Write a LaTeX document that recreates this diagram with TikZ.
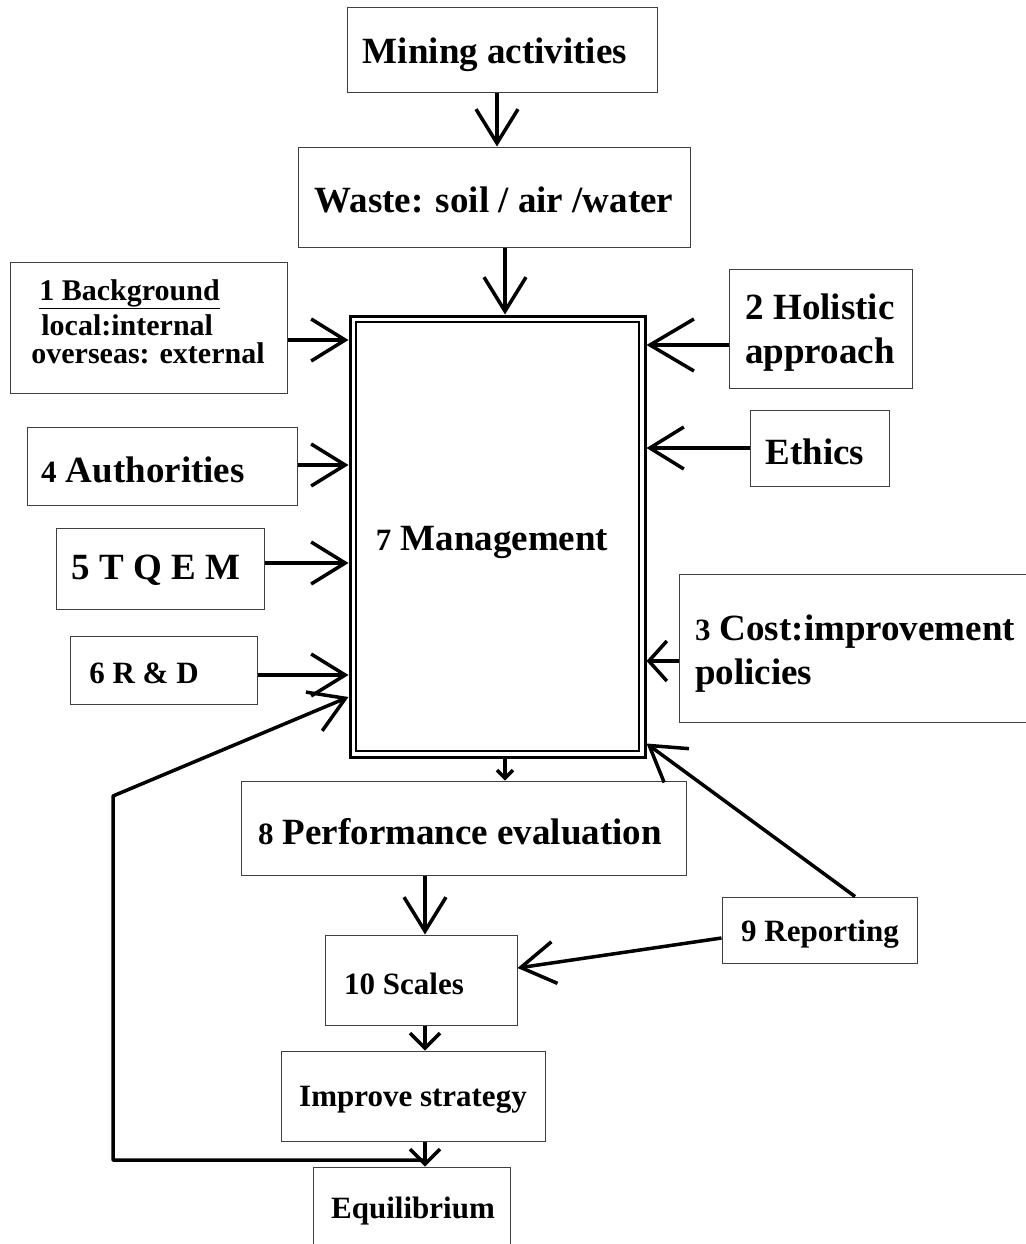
\documentclass[tikz,border=0pt]{standalone}
\usepackage{fontspec}
\setmainfont{Liberation Serif}
\usetikzlibrary{arrows.meta,calc}
\begin{document}
\begin{tikzpicture}[x=1pt,y=-1pt,
  box/.style={draw=black!75, line width=1pt, inner sep=0pt},
  txt/.style={font=\bfseries\fontsize{37}{44}\selectfont, inner sep=0pt, align=center},
  txts/.style={font=\bfseries\fontsize{31}{36}\selectfont, inner sep=0pt, align=center},
  arr/.style={line width=3.5pt, line join=round, -{Straight Barb[length=34pt,width=42pt]}},
  arrbig/.style={line width=3.5pt, -{Straight Barb[length=44pt,width=52pt]}},
  arrsmall/.style={line width=3.5pt, -{Straight Barb[length=18pt,width=40pt]}},
  arrmid/.style={line width=3.5pt, -{Straight Barb[length=15pt,width=30pt]}},
  arrtiny/.style={line width=3.5pt, -{Straight Barb[length=8pt,width=16pt]}},
]
\useasboundingbox (0,0) rectangle (1025,1244);
\fill[white] (0,0) rectangle (1025,1244);

% boxes
\node[box, minimum width=310pt, minimum height=85pt] (mining) at (502,50.5) {};
\node[txt] (miningT) at (495,55) {Mining activities};

\node[box, minimum width=392pt, minimum height=100pt] (waste) at (494,197) {};
\node[txt] (wasteT) at (494,200) {Waste: soil / air /water};

\node[box, minimum width=277pt, minimum height=131pt] (bg) at (148.5,327.5) {};
\node[font=\bfseries\fontsize{30}{28}\selectfont, inner sep=0pt, align=left] (bgT) at (148,322)
  {\hspace*{8pt}\underline{1 Background}\\[5pt]\hspace*{10pt}local:internal\\overseas: external};

\node[box, minimum width=183pt, minimum height=119pt] (holistic) at (820.5,328.5) {};
\node[txt] (holisticT) at (820,333) {2 Holistic\\approach};

\node[box, minimum width=139pt, minimum height=76pt] (ethics) at (819.5,448) {};
\node[txt] (ethicsT) at (815,452) {Ethics};

\node[box, minimum width=270pt, minimum height=78pt] (auth) at (162,466) {};
\node[txt] (authT) at (143,470) {{\fontsize{31}{31}\selectfont 4} Authorities};

\node[box, minimum width=208pt, minimum height=81pt] (tqem) at (160,568.5) {};
\node[txt] (tqemT) at (156,570) {5 T Q E M};

\node[box, minimum width=187pt, minimum height=68pt] (rd) at (163.5,670) {};
\node[txts] (rdT) at (144,673) {6 R \& D};

\node[box, minimum width=348pt, minimum height=148pt] (cost) at (853,648) {};
\node[txt, align=left] (costT) at (855,654) {{\fontsize{31}{31}\selectfont 3} Cost:improvement\\policies};

\node[draw, line width=3pt, minimum width=295pt, minimum height=441pt, inner sep=0pt] (mgmt) at (497.5,536.5) {};
\node[draw, line width=1.5pt, minimum width=283pt, minimum height=429pt, inner sep=0pt] (mgmtin) at (497.5,536.5) {};
\node[txt] (mgmtT) at (492,542) {{\fontsize{31}{31}\selectfont 7} Management};

\node[box, minimum width=445pt, minimum height=94pt] (perf) at (463.5,828) {};
\node[txt] (perfT) at (460,832) {{\fontsize{31}{31}\selectfont 8} Performance evaluation};

\node[box, minimum width=195pt, minimum height=66pt] (report) at (819.5,930) {};
\node[txts] (reportT) at (820,934) {9 Reporting};

\node[box, minimum width=192pt, minimum height=90pt] (scales) at (421,980) {};
\node[txts] (scalesT) at (404,984) {10 Scales};

\node[box, minimum width=264pt, minimum height=90pt] (improve) at (413,1096) {};
\node[txts] (improveT) at (413,1100) {Improve strategy};

\node[box, minimum width=197pt, minimum height=84pt] (equil) at (411.5,1209) {};
\node[txts] (equilT) at (413,1211) {Equilibrium};

% helper coordinates
\coordinate (hB) at (0,340);
\coordinate (hA) at (0,465);
\coordinate (hT) at (0,563);
\coordinate (hR) at (0,675);
\coordinate (hH) at (0,345);
\coordinate (hE) at (0,448);
\coordinate (hC) at (0,661);
\coordinate (hF) at (0,697);
\coordinate (hRs) at (0,938);
\coordinate (hSe) at (0,968);
\coordinate (vM) at (497,0);
\coordinate (vW) at (505,0);
\coordinate (vS) at (425,0);
\coordinate (vR) at (855,0);
\coordinate (fb0) at (425,1160);
\coordinate (fb1) at (113,1160);
\coordinate (fb2) at (113,796);

% connectors
\draw[arr] (mining.south -| vM) -- (waste.north -| vM);
\draw[arr] (waste.south -| vW) -- (mgmt.north -| vW);
\draw[arr] (bg.east |- hB) -- (mgmt.west |- hB);
\draw[arr] (auth.east |- hA) -- (mgmt.west |- hA);
\draw[arr] (tqem.east |- hT) -- (mgmt.west |- hT);
\draw[arr] (rd.east |- hR) -- (mgmt.west |- hR);
\draw[arrbig] (holistic.west |- hH) -- (mgmt.east |- hH);
\draw[arr] (ethics.west |- hE) -- (mgmt.east |- hE);
\draw[arrsmall] (cost.west |- hC) -- (mgmt.east |- hC);
\draw[arr] (report.north -| vR) -- ([yshift=15pt]mgmt.south east);
\draw[arr] (report.west |- hRs) -- (scales.east |- hSe);
\draw[arrtiny] (mgmt.south -| vW) -- (perf.north -| vW);
\draw[arr] (perf.south -| vS) -- (scales.north -| vS);
\draw[arrmid] (scales.south -| vS) -- (improve.north -| vS);
\draw[arrmid] (improve.south -| vS) -- (equil.north -| vS);
\draw[arr] (fb0) -- (fb1) -- (fb2) -- (mgmt.west |- hF);
\end{tikzpicture}
\end{document}
